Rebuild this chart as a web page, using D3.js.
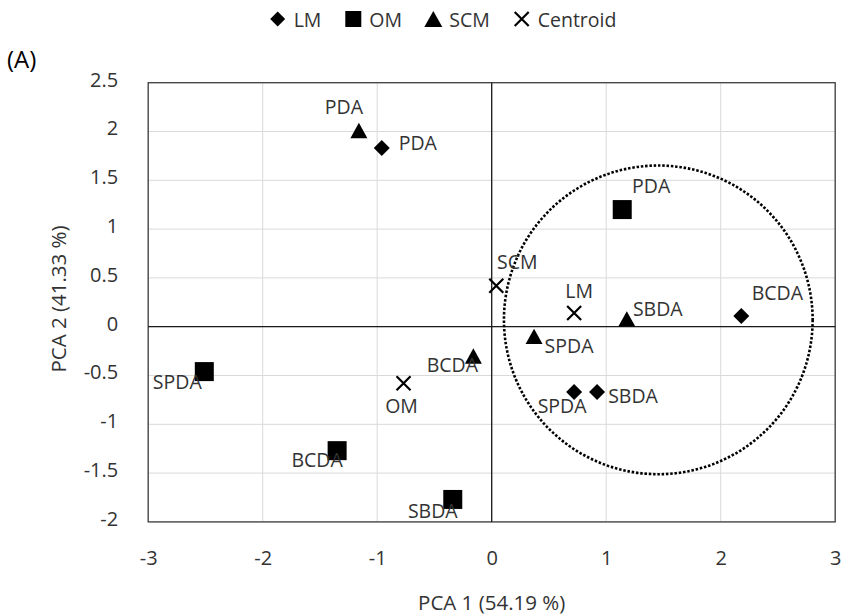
<!DOCTYPE html>
<html><head><meta charset="utf-8">
<script src="https://cdn.jsdelivr.net/npm/d3@7"></script>
<style>body{margin:0;background:#fff}svg{display:block}text{font-family:"Open Sans",sans-serif}</style>
</head><body>
<svg id="chart" width="842" height="616"></svg>
<script>
// ---- data ----
const seriesNames = ["LM", "OM", "SCM", "Centroid"];
const lmNames = ["PDA", "BCDA", "SPDA", "SBDA"];
const lmX = [-0.96, 2.18, 0.72, 0.92];
const lmY = [1.83, 0.11, -0.67, -0.67];
const omNames = ["PDA", "SPDA", "BCDA", "SBDA"];
const omX = [1.14, -2.51, -1.35, -0.34];
const omY = [1.20, -0.46, -1.27, -1.77];
const scmNames = ["PDA", "SBDA", "SPDA", "BCDA"];
const scmX = [-1.16, 1.18, 0.37, -0.16];
const scmY = [2.01, 0.08, -0.10, -0.30];
const centroidNames = ["SCM", "LM", "OM"];
const centroidX = [0.04, 0.72, -0.77];
const centroidY = [0.42, 0.14, -0.58];
const xTicks = [-3, -2, -1, 0, 1, 2, 3];
const yTicks = [-2, -1.5, -1, -0.5, 0, 0.5, 1, 1.5, 2, 2.5];
const clusterCircle = {cx: 1.455, cy: 0.07, rx: 1.348};
const xTitle = "PCA 1 (54.19 %)";
const yTitle = "PCA 2 (41.33 %)";
const panelLabel = "(A)";

// label placement (pixel offsets of label centre from its marker)
const labelOffsets = {
  LM: [[36,-6],[36,-23],[-12,13],[36,3]],
  OM: [[29,-24],[-27,10],[-20,9],[-20,11]],
  SCM: [[-15,-24],[31,-10],[35,9],[-21,9]],
  Centroid: [[21,-24],[5,-23],[-2,22]]
};

const series = [
  {key: "LM", names: lmNames, xs: lmX, ys: lmY, shape: "diamond"},
  {key: "OM", names: omNames, xs: omX, ys: omY, shape: "square"},
  {key: "SCM", names: scmNames, xs: scmX, ys: scmY, shape: "triangle"},
  {key: "Centroid", names: centroidNames, xs: centroidX, ys: centroidY, shape: "cross"}
];

const svg = d3.select("#chart");
const pLeft = 148.2, pRight = 835.2, pTop = 82.7, pBottom = 521.9;
const x = d3.scaleLinear().domain([-3, 3]).range([pLeft, pRight]);
const y = d3.scaleLinear().domain([-2, 2.5]).range([pBottom, pTop]);
const textColor = "#333333";
const labelSize = 19.5, tickSize = 20, titleSize = 20.5;

// gridlines
const g = svg.append("g");
g.selectAll(".vg").data(xTicks).join("line")
  .attr("x1", d => x(d)).attr("x2", d => x(d)).attr("y1", pTop).attr("y2", pBottom)
  .attr("stroke", "#d9d9d9").attr("stroke-width", 1);
g.selectAll(".hg").data(yTicks).join("line")
  .attr("x1", pLeft).attr("x2", pRight).attr("y1", d => y(d)).attr("y2", d => y(d))
  .attr("stroke", "#d9d9d9").attr("stroke-width", 1);

// plot border
svg.append("rect").attr("x", pLeft).attr("y", pTop).attr("width", pRight - pLeft).attr("height", pBottom - pTop)
  .attr("fill", "none").attr("stroke", "#404040").attr("stroke-width", 1.3);

// zero axes
svg.append("line").attr("x1", x(0)).attr("x2", x(0)).attr("y1", pTop).attr("y2", pBottom)
  .attr("stroke", "#1a1a1a").attr("stroke-width", 1.3);
svg.append("line").attr("x1", pLeft).attr("x2", pRight).attr("y1", y(0)).attr("y2", y(0))
  .attr("stroke", "#1a1a1a").attr("stroke-width", 1.3);

// tick labels via axes
const fmt = d => String(d);
const xAxis = svg.append("g").attr("transform", `translate(0,${pBottom + 26})`)
  .call(d3.axisBottom(x).tickValues(xTicks).tickFormat(fmt).tickSize(0));
xAxis.select(".domain").remove();
xAxis.selectAll("text").attr("font-size", tickSize).attr("fill", textColor).attr("font-family", '"Open Sans",sans-serif');
const yAxis = svg.append("g").attr("transform", `translate(${pLeft - 27},-3)`)
  .call(d3.axisLeft(y).tickValues(yTicks).tickFormat(fmt).tickSize(0));
yAxis.select(".domain").remove();
yAxis.selectAll("text").attr("font-size", tickSize).attr("fill", textColor).attr("font-family", '"Open Sans",sans-serif');

// dotted cluster circle
const rPx = x(clusterCircle.cx + clusterCircle.rx) - x(clusterCircle.cx);
svg.append("circle").attr("cx", x(clusterCircle.cx)).attr("cy", y(clusterCircle.cy)).attr("r", rPx)
  .attr("fill", "none").attr("stroke", "#000").attr("stroke-width", 2.6).attr("stroke-dasharray", "2.5,1.8");

// marker drawing
function marker(sel, shape, cx, cy, s) {
  if (shape === "diamond") {
    const h = s * 0.5;
    sel.append("path").attr("d", `M${cx},${cy - h}L${cx + h},${cy}L${cx},${cy + h}L${cx - h},${cy}Z`).attr("fill", "#000");
  } else if (shape === "square") {
    sel.append("rect").attr("x", cx - s / 2).attr("y", cy - s / 2).attr("width", s).attr("height", s).attr("fill", "#000");
  } else if (shape === "triangle") {
    const h = s * 0.9;
    sel.append("path").attr("d", `M${cx},${cy - h / 2}L${cx + s / 2},${cy + h / 2}L${cx - s / 2},${cy + h / 2}Z`).attr("fill", "#000");
  } else {
    const h = s / 2;
    sel.append("path").attr("d", `M${cx - h},${cy - h}L${cx + h},${cy + h}M${cx - h},${cy + h}L${cx + h},${cy - h}`)
      .attr("stroke", "#000").attr("stroke-width", 2.2).attr("fill", "none");
  }
}
const sizes = {diamond: 16, square: 19, triangle: 17, cross: 14};

const pts = svg.append("g");
series.forEach(s => {
  s.xs.forEach((v, i) => marker(pts, s.shape, x(v), y(s.ys[i]), sizes[s.shape]));
});
const labs = svg.append("g");
series.forEach(s => {
  s.names.forEach((n, i) => {
    const o = labelOffsets[s.key][i];
    labs.append("text").attr("x", x(s.xs[i]) + o[0]).attr("y", y(s.ys[i]) + o[1])
      .attr("text-anchor", "middle").attr("dominant-baseline", "central")
      .attr("font-size", labelSize).attr("fill", textColor).text(n);
  });
});

// legend
const legShapes = ["diamond", "square", "triangle", "cross"];
const legX = [277.7, 353.3, 433.3, 521.7];
const legSizes = {diamond: 15, square: 16, triangle: 18, cross: 14};
const leg = svg.append("g");
seriesNames.forEach((n, i) => {
  marker(leg, legShapes[i], legX[i], 19, legSizes[legShapes[i]]);
  leg.append("text").attr("x", legX[i] + 16).attr("y", 19).attr("dominant-baseline", "central")
    .attr("font-size", labelSize).attr("fill", textColor).text(n);
});

// titles
svg.append("text").attr("x", x(0)).attr("y", 602).attr("text-anchor", "middle").attr("dominant-baseline", "central")
  .attr("font-size", titleSize).attr("fill", textColor).text(xTitle);
svg.append("text").attr("transform", `translate(58,299) rotate(-90)`).attr("text-anchor", "middle")
  .attr("dominant-baseline", "central").attr("font-size", titleSize).attr("fill", textColor).text(yTitle);
svg.append("text").attr("x", 7).attr("y", 58).attr("dominant-baseline", "central")
  .attr("font-size", 24).attr("fill", "#000").text(panelLabel);
</script>
</body></html>
